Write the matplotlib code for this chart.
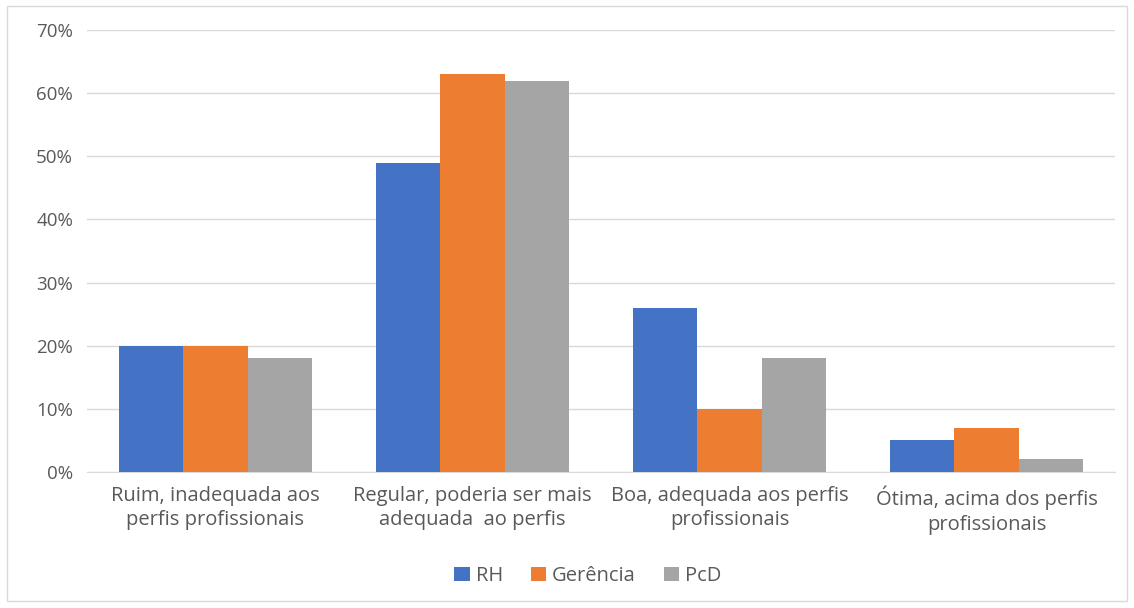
import matplotlib
matplotlib.use("Agg")
import matplotlib.pyplot as plt
from matplotlib.patches import Rectangle
from matplotlib.ticker import FuncFormatter
import numpy as np

categories = ["Ruim, inadequada aos\nperfis profissionais",
              "Regular, poderia ser mais\nadequada  ao perfis",
              "Boa, adequada aos perfis\nprofissionais",
              "Ótima, acima dos perfis\nprofissionais"]
series_names = ["RH", "Gerência", "PcD"]
rh = [20, 49, 26, 5]
gerencia = [20, 63, 10, 7]
pcd = [18, 62, 18, 2]
colors = ["#4472C4", "#ED7D31", "#A5A5A5"]
yticks = [0, 10, 20, 30, 40, 50, 60, 70]

plt.rcParams['font.family'] = ['Open Sans', 'DejaVu Sans']
txt = "#595959"

fig = plt.figure(figsize=(11.34, 6.08), dpi=100)
ax = fig.add_axes([87/1134, 1-472/608, (1115-87)/1134, (472-30)/608])

x = np.arange(len(categories))
w = 0.25
for i, (vals, name) in enumerate(zip([rh, gerencia, pcd], series_names)):
    ax.bar(x + (i-1)*w, vals, w, color=colors[i], label=name, zorder=3)

ax.set_xlim(-0.5, len(categories)-0.5)
ax.set_ylim(0, 70)
ax.set_yticks(yticks)
ax.yaxis.set_major_formatter(FuncFormatter(lambda v, p: f"{int(v)}%"))
ax.grid(axis='y', color="#D9D9D9", linewidth=1.0, zorder=0)
for s in ['top', 'right', 'left']:
    ax.spines[s].set_visible(False)
ax.spines['bottom'].set_color("#D9D9D9")
ax.tick_params(axis='both', length=0, colors=txt)
ax.tick_params(axis='y', labelsize=13.5, pad=10)
ax.set_xticks(x)
ax.set_xticklabels(categories, fontsize=14.5, color=txt, linespacing=1.3)
ax.tick_params(axis='x', pad=10)

leg = fig.legend(loc='center', bbox_to_anchor=(588/1134, 1-576/608), ncol=3,
                 frameon=False, fontsize=14.5, handlelength=0.75, handleheight=0.75,
                 handletextpad=0.3, columnspacing=1.4)
for t in leg.get_texts():
    t.set_color(txt)

fig.patches.append(Rectangle((7/1134, 1-601/608), (1127-7)/1134, (601-6)/608,
                             transform=fig.transFigure, fill=False,
                             edgecolor="#D9D9D9", linewidth=1.0))

fig.savefig("out.png", dpi=100, facecolor="white")
